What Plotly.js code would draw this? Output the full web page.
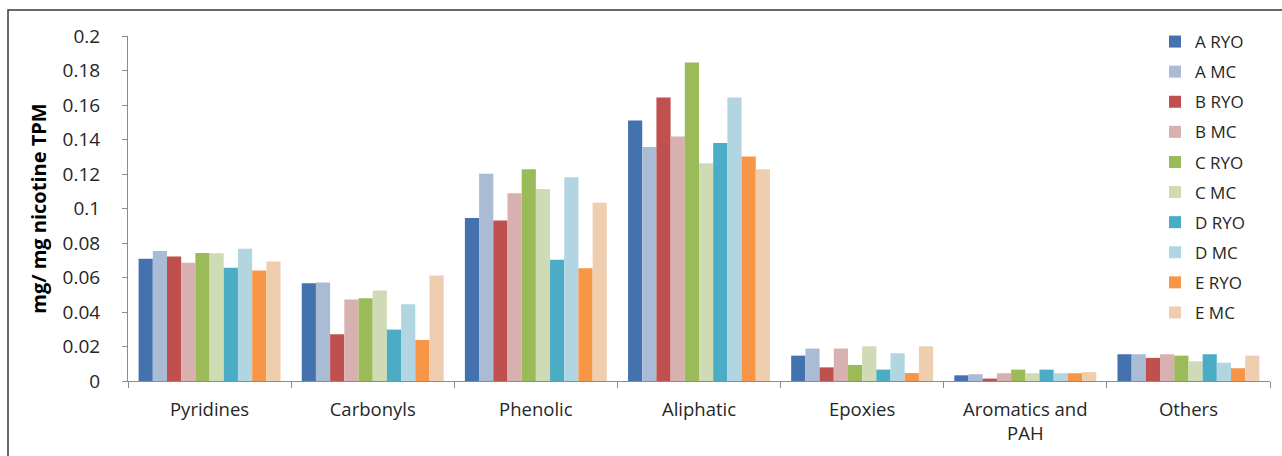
<!DOCTYPE html>
<html>
<head>
<meta charset="utf-8">
<script src="https://cdn.plot.ly/plotly-3.0.1.min.js"></script>
<style>
  html, body { margin: 0; padding: 0; background: #fff; }
  #chart { width: 1282px; height: 456px; }
</style>
</head>
<body>
<div id="chart"></div>
<script>
// Compound classes along the x axis
const categories = ['Pyridines', 'Carbonyls', 'Phenolic', 'Aliphatic', 'Epoxies', 'Aromatics and<br>PAH', 'Others'];

// mg per mg nicotine TPM, one array per product / smoking mode
const aRYO = [0.0709, 0.0567, 0.0945, 0.1510, 0.0147, 0.0033, 0.0155];
const aMC  = [0.0753, 0.0571, 0.1202, 0.1357, 0.0188, 0.0039, 0.0155];
const bRYO = [0.0722, 0.0271, 0.0931, 0.1644, 0.0079, 0.0014, 0.0134];
const bMC  = [0.0685, 0.0472, 0.1088, 0.1417, 0.0188, 0.0045, 0.0155];
const cRYO = [0.0742, 0.0480, 0.1227, 0.1847, 0.0093, 0.0066, 0.0147];
const cMC  = [0.0740, 0.0525, 0.1113, 0.1262, 0.0201, 0.0045, 0.0114];
const dRYO = [0.0656, 0.0298, 0.0703, 0.1380, 0.0066, 0.0066, 0.0155];
const dMC  = [0.0767, 0.0445, 0.1181, 0.1644, 0.0161, 0.0045, 0.0106];
const eRYO = [0.0641, 0.0238, 0.0654, 0.1301, 0.0046, 0.0045, 0.0074];
const eMC  = [0.0693, 0.0612, 0.1034, 0.1227, 0.0201, 0.0052, 0.0147];

const yTicks = [0, 0.02, 0.04, 0.06, 0.08, 0.1, 0.12, 0.14, 0.16, 0.18, 0.2];
const yTickText = ['0', '0.02', '0.04', '0.06', '0.08', '0.1', '0.12', '0.14', '0.16', '0.18', '0.2'];

// Solid fills for RYO, checkered fills for MC
const seriesDefs = [
  { name: 'A RYO', y: aRYO, color: '#4472AE' },
  { name: 'A MC',  y: aMC,  color: '#7893BE', tint: '#CFDAE8' },
  { name: 'B RYO', y: bRYO, color: '#C0504D' },
  { name: 'B MC',  y: bMC,  color: '#C08382', tint: '#EBD3D3' },
  { name: 'C RYO', y: cRYO, color: '#9BBB59' },
  { name: 'C MC',  y: cMC,  color: '#B3C78C', tint: '#E3EBD4' },
  { name: 'D RYO', y: dRYO, color: '#4BACC6' },
  { name: 'D MC',  y: dMC,  color: '#85BFCF', tint: '#D3E9EF' },
  { name: 'E RYO', y: eRYO, color: '#F79646' },
  { name: 'E MC',  y: eMC,  color: '#E6B486', tint: '#F6E3D2' }
];

const traces = seriesDefs.map((s, i) => {
  const marker = { color: s.tint || s.color, line: { width: 0 } };
  if (s.tint) {
    marker.pattern = { shape: '.', size: 2, solidity: 0.5, fgcolor: s.color, bgcolor: s.tint, fillmode: 'replace' };
  }
  return {
    type: 'bar',
    name: s.name,
    x: categories,
    y: s.y,
    marker: marker,
    legendgroup: 'g' + i,
    hoverinfo: 'name+y'
  };
});

const ml = 128, mr = 12, mt = 36, mb = 75, W = 1282, H = 456;
const pw = W - ml - mr, ph = H - mt - mb;
const baseFont = '"Open Sans", Lato, sans-serif';

const layout = {
  width: W,
  height: H,
  margin: { l: ml, r: mr, t: mt, b: mb },
  paper_bgcolor: '#ffffff',
  plot_bgcolor: '#ffffff',
  font: { family: baseFont, size: 18, color: '#262626' },
  barmode: 'group',
  bargap: 0.13,
  bargroupgap: 0,
  showlegend: true,
  legend: {
    x: (1155 - ml) / pw,
    y: 1 - (24 - mt) / ph,
    xanchor: 'left',
    yanchor: 'top',
    bgcolor: 'rgba(255,255,255,0)',
    font: { size: 17, color: '#262626', family: baseFont },
    tracegroupgap: 5,
    itemwidth: 30,
    maxheight: 440
  },
  xaxis: {
    type: 'category',
    showline: true,
    linecolor: '#8c8c8c',
    linewidth: 1,
    ticks: 'outside',
    tickson: 'boundaries',
    ticklen: 6,
    tickcolor: '#8c8c8c',
    ticklabelstandoff: 12,
    tickfont: { size: 18.5, family: baseFont, color: '#262626' },
    showgrid: false,
    zeroline: false,
    fixedrange: true
  },
  yaxis: {
    range: [0, 0.2],
    tickvals: yTicks,
    ticktext: yTickText,
    showline: true,
    linecolor: '#8c8c8c',
    linewidth: 1,
    ticks: 'outside',
    ticklen: 5,
    tickcolor: '#8c8c8c',
    ticklabelstandoff: 18,
    tickfont: { size: 19, family: baseFont, color: '#262626' },
    showgrid: false,
    zeroline: false,
    fixedrange: true,
    title: {
      text: 'mg/ mg nicotine TPM',
      font: { size: 20, color: '#000000', family: baseFont, weight: 'bold' },
      standoff: 10
    }
  },
  shapes: [{
    type: 'rect',
    xref: 'paper', yref: 'paper',
    x0: (8 - ml) / pw, x1: (W + 10 - ml) / pw,
    y0: -(H + 10 - mt - ph) / ph, y1: 1 + (mt - 10) / ph,
    line: { color: '#3a3a3a', width: 1.5 },
    fillcolor: 'rgba(0,0,0,0)',
    layer: 'below'
  }]
};

Plotly.newPlot('chart', traces, layout, { displayModeBar: false, staticPlot: true });
</script>
</body>
</html>
